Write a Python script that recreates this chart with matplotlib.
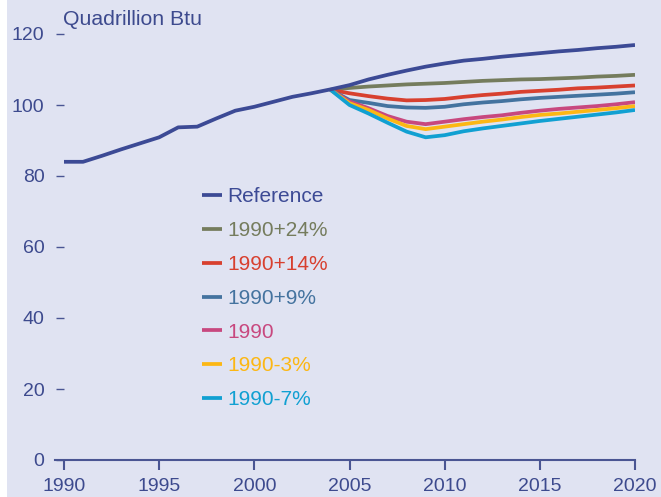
import matplotlib
matplotlib.use("Agg")
import matplotlib.pyplot as plt
import numpy as np

plt.rcParams['font.family'] = ['Liberation Sans', 'DejaVu Sans']

# data (quadrillion Btu)
years = list(range(1990, 2021))
reference = [84.0, 84.0, 85.7, 87.5, 89.2, 90.9, 93.7, 93.9, 96.2, 98.4,
             99.5, 100.9, 102.3, 103.3, 104.4, 105.6, 107.2, 108.5, 109.7, 110.8,
             111.7, 112.5, 113.0, 113.6, 114.1, 114.6, 115.1, 115.5, 116.0, 116.4, 116.9]

scen_years = list(range(2004, 2021))
s_plus24 = [104.3, 104.8, 105.2, 105.5, 105.8, 106.0, 106.2, 106.5, 106.8, 107.0,
            107.2, 107.3, 107.5, 107.7, 108.0, 108.2, 108.5]
s_plus14 = [104.3, 103.3, 102.5, 101.8, 101.3, 101.4, 101.7, 102.3, 102.8, 103.2,
            103.7, 104.0, 104.3, 104.7, 104.9, 105.2, 105.5]
s_plus9 = [104.3, 101.4, 100.6, 99.7, 99.3, 99.2, 99.5, 100.2, 100.7, 101.1,
           101.6, 102.0, 102.3, 102.6, 102.9, 103.2, 103.6]
s_1990 = [104.3, 101.0, 99.1, 96.9, 95.3, 94.6, 95.3, 96.0, 96.6, 97.1,
          97.8, 98.4, 98.9, 99.3, 99.7, 100.2, 100.8]
s_minus3 = [104.3, 100.5, 98.6, 96.2, 94.1, 93.2, 93.9, 94.6, 95.3, 95.9,
            96.6, 97.2, 97.6, 98.1, 98.6, 99.1, 99.7]
s_minus7 = [104.3, 100.0, 97.6, 95.0, 92.5, 90.9, 91.5, 92.6, 93.4, 94.1,
            94.8, 95.5, 96.1, 96.7, 97.3, 97.9, 98.6]

labels = ["Reference", "1990+24%", "1990+14%", "1990+9%", "1990", "1990-3%", "1990-7%"]
colors = ["#3c4a95", "#757c5d", "#d8402f", "#44739f", "#c8487f", "#fcb714", "#11a0d2"]

bg = "#e0e3f2"
axcol = "#4a5593"
txtcol = "#3d4a8e"

fig = plt.figure(figsize=(6.61, 4.97), dpi=100, facecolor=bg)
# thin white strip on the left edge
fig.patches.append(plt.Rectangle((0, 0), 7/661, 1, transform=fig.transFigure,
                                 facecolor="white", edgecolor="none", zorder=-1))
ax = fig.add_axes([64/661, 1 - 460/497, (635 - 64)/661, (460 - 34)/497])
ax.set_facecolor(bg)

series = [s_plus24, s_plus14, s_plus9, s_1990, s_minus3, s_minus7]
handles = []
h, = ax.plot(years, reference, color=colors[0], lw=2.7, solid_capstyle='butt',
             zorder=5, label=labels[0])
handles.append(h)
for vals, c, lab in zip(series, colors[1:], labels[1:]):
    h, = ax.plot(scen_years, vals, color=c, lw=2.7, solid_capstyle='butt',
                 zorder=3, label=lab)
    handles.append(h)

ax.set_xlim(1990, 2020)
ax.set_ylim(0, 120)
ax.set_xticks(range(1990, 2021, 5))
ax.set_yticks(range(0, 121, 20))

for s in ["top", "right", "left", "bottom"]:
    ax.spines[s].set_visible(False)
# x axis line runs a little past the y ticks
ax.plot([-0.015, 1], [0, 0], transform=ax.transAxes, color=axcol, lw=1.5,
        clip_on=False, zorder=6)

ax.tick_params(axis='y', direction='out', length=6, width=1.0, color=axcol,
               labelcolor=txtcol, labelsize=14, pad=8)
ax.tick_params(axis='x', direction='out', length=7, width=1.5, color=axcol,
               labelcolor=txtcol, labelsize=14, pad=6)

fig.text(63/661, 1 - 25/497, "Quadrillion Btu", color=txtcol, fontsize=15.3,
         ha='left', va='baseline')

leg = ax.legend(handles=handles, loc='upper left',
                bbox_to_anchor=(202/661, 1 - 187.5/497), bbox_transform=fig.transFigure,
                frameon=False, fontsize=15, labelcolor='linecolor',
                handlelength=0.95, handletextpad=0.25, labelspacing=0.71,
                borderpad=0, borderaxespad=0)

fig.savefig("out.png", dpi=100, facecolor=bg)
